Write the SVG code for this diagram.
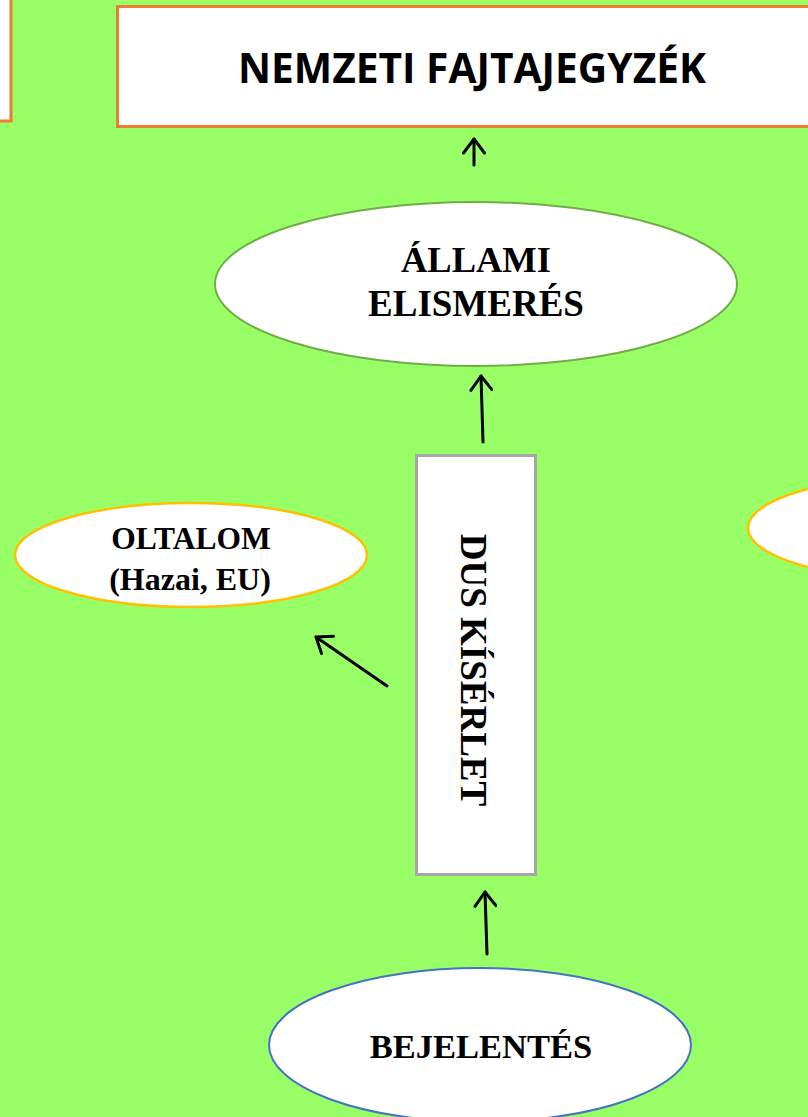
<svg xmlns="http://www.w3.org/2000/svg" width="808" height="1117" viewBox="0 0 808 1117">
<style>
.box{fill:#fff;stroke:#ED7D31;stroke-width:3}
.t{font-family:"Liberation Serif","Times New Roman",serif;font-weight:bold;fill:#000;text-anchor:middle}
.c{stroke:#000;stroke-width:3;fill:none;stroke-linecap:round}
</style>
<defs>
<marker id="ah" viewBox="0 0 24 24" refX="16" refY="12" markerWidth="24" markerHeight="24" markerUnits="userSpaceOnUse" orient="auto">
<path d="M2,1.5 L16,12 L2,22.5" fill="none" stroke="#000" stroke-width="3" stroke-linecap="round" stroke-linejoin="round"/>
</marker>
</defs>
<rect width="808" height="1117" fill="#99FF66"/>
<g id="left-box"><rect class="box" x="-10" y="-10" width="21" height="131"/></g>
<g id="nemzeti"><rect class="box" x="117.5" y="6.5" width="700" height="120"/>
<text x="472" y="83" font-family="'Open Sans','Liberation Sans',sans-serif" font-weight="bold" font-size="41" text-anchor="middle" textLength="468" lengthAdjust="spacingAndGlyphs">NEMZETI FAJTAJEGYZÉK</text></g>
<g id="allami"><ellipse cx="476" cy="284" rx="261" ry="82" fill="#fff" stroke="#70AD47" stroke-width="2"/>
<text class="t" x="476" y="272" font-size="36.5">ÁLLAMI</text>
<text class="t" x="476" y="316" font-size="37">ELISMERÉS</text></g>
<g id="oltalom"><ellipse cx="191" cy="555" rx="176" ry="52" fill="#fff" stroke="#FFC000" stroke-width="2.5"/>
<text class="t" x="191" y="549" font-size="31.5">OLTALOM</text>
<text class="t" x="190" y="590" font-size="32">(Hazai, EU)</text></g>
<g id="right-ellipse"><ellipse cx="924" cy="528" rx="176" ry="52" fill="#fff" stroke="#FFC000" stroke-width="2.5"/></g>
<g id="dus"><rect x="416.5" y="455.5" width="119" height="419" fill="#fff" stroke="#A6A6A6" stroke-width="3"/>
<text class="t" font-size="37" transform="translate(461,670) rotate(90)">DUS KÍSÉRLET</text></g>
<g id="bejelentes"><ellipse cx="480" cy="1045" rx="211" ry="77" fill="#fff" stroke="#4472C4" stroke-width="2"/>
<text class="t" x="481" y="1058" font-size="34.5">BEJELENTÉS</text></g>
<g id="connectors">
<line class="c" x1="474" y1="165" x2="474" y2="139" marker-end="url(#ah)"/>
<line class="c" x1="483" y1="442" x2="481" y2="376" marker-end="url(#ah)"/>
<line class="c" x1="487" y1="954" x2="485" y2="892" marker-end="url(#ah)"/>
<line class="c" x1="387" y1="686" x2="316" y2="637" marker-end="url(#ah)"/>
</g>
</svg>
